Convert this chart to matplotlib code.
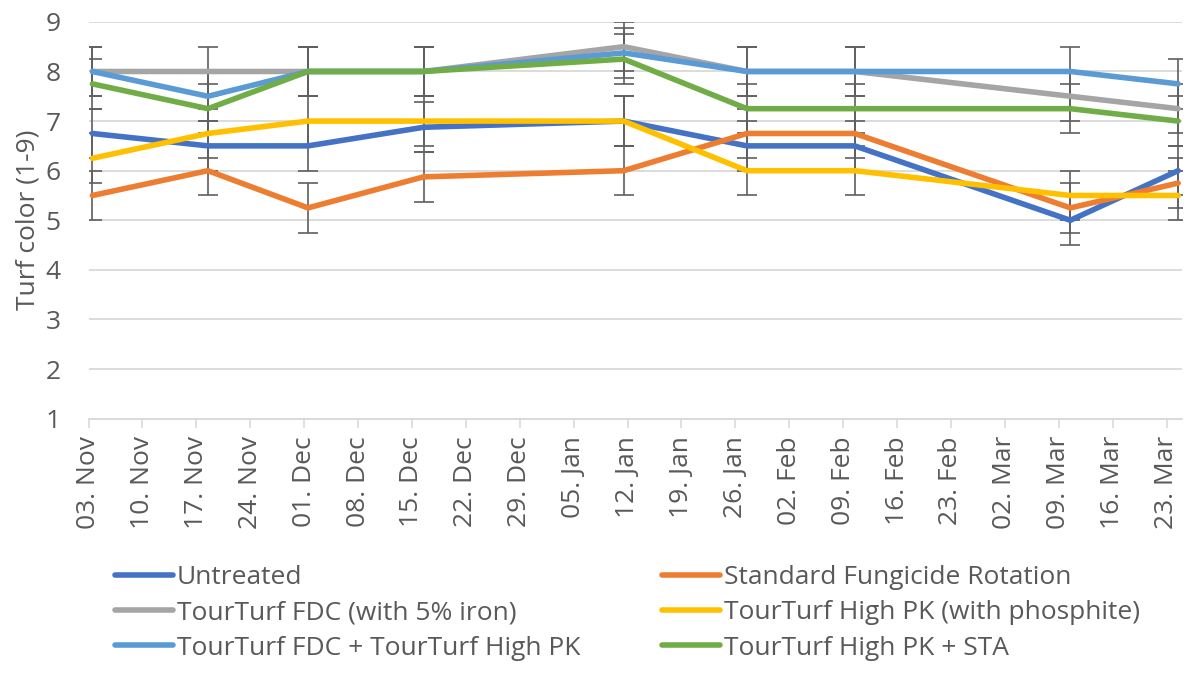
import matplotlib
matplotlib.use("Agg")
import matplotlib.pyplot as plt
import matplotlib.dates as mdates
import numpy as np
import pandas as pd

# ---- data ----
dates = ["2020-11-03", "2020-11-18", "2020-12-01", "2020-12-16", "2021-01-11",
         "2021-01-27", "2021-02-10", "2021-03-10", "2021-03-24"]
untreated = [6.75, 6.5, 6.5, 6.875, 7.0, 6.5, 6.5, 5.0, 6.0]
standard = [5.5, 6.0, 5.25, 5.875, 6.0, 6.75, 6.75, 5.25, 5.75]
fdc = [8.0, 8.0, 8.0, 8.0, 8.5, 8.0, 8.0, 7.5, 7.25]
highpk = [6.25, 6.75, 7.0, 7.0, 7.0, 6.0, 6.0, 5.5, 5.5]
fdc_hpk = [8.0, 7.5, 8.0, 8.0, 8.375, 8.0, 8.0, 8.0, 7.75]
hpk_sta = [7.75, 7.25, 8.0, 8.0, 8.25, 7.25, 7.25, 7.25, 7.0]
error = 0.5

series_names = ["Untreated", "Standard Fungicide Rotation", "TourTurf FDC (with 5% iron)",
                "TourTurf High PK (with phosphite)", "TourTurf FDC + TourTurf High PK",
                "TourTurf High PK + STA"]
series_values = [untreated, standard, fdc, highpk, fdc_hpk, hpk_sta]
colors = ["#4472C4", "#ED7D31", "#A5A5A5", "#FFC000", "#5B9BD5", "#70AD47"]

tick_start = "2020-11-03"
tick_end = "2021-03-23"
axis_end = "2021-03-25"

plt.rcParams['font.family'] = ['Open Sans', 'DejaVu Sans']
text_color = "#595959"
fs = 19

fig = plt.figure(figsize=(12, 6.75), dpi=100)
ax = fig.add_axes([0.0738, 0.3797, 0.9112, 0.5879])

x = pd.to_datetime(dates) + pd.Timedelta(hours=12)
handles = []
for i, (name, vals, c) in enumerate(zip(series_names, series_values, colors)):
    ax.errorbar(x, vals, yerr=error, fmt='none', ecolor="#5f5f5f", elinewidth=1.2,
                capsize=7.5, capthick=1.2, zorder=2)
for i, (name, vals, c) in enumerate(zip(series_names, series_values, colors)):
    h, = ax.plot(x, vals, color=c, lw=4.0, solid_capstyle='round',
                 solid_joinstyle='round', zorder=3 + i, label=name)
    handles.append(h)

ax.set_ylim(1, 9)
ax.set_yticks(range(1, 10))
ax.set_xlim(pd.Timestamp(tick_start), pd.Timestamp(axis_end))
ticks = pd.date_range(tick_start, tick_end, freq="7D")
ax.set_xticks(ticks)
ax.xaxis.set_major_formatter(mdates.DateFormatter("%d. %b"))
ax.grid(axis='y', color="#D9D9D9", lw=1.3, zorder=0)
for s in ["left", "right", "top"]:
    ax.spines[s].set_visible(False)
ax.spines["bottom"].set_color("#D9D9D9")
ax.spines["bottom"].set_linewidth(1.3)
ax.tick_params(axis='y', length=0, pad=20, labelsize=fs, labelcolor=text_color)
ax.tick_params(axis='x', length=6.5, width=1.2, color="#D9D9D9", pad=6,
               labelsize=fs, labelcolor=text_color, labelrotation=90)
ax.set_ylabel("Turf color (1-9)", fontsize=fs, color=text_color, labelpad=4)

leg_kw = dict(frameon=False, fontsize=fs, handlelength=2.2, handletextpad=0.15,
              labelspacing=0.39, labelcolor=text_color, borderaxespad=0, borderpad=0)
leg1 = fig.legend([handles[0], handles[2], handles[4]],
                  [series_names[0], series_names[2], series_names[4]],
                  loc="upper left", bbox_to_anchor=(0.0958, 0.163), **leg_kw)
leg2 = fig.legend([handles[1], handles[3], handles[5]],
                  [series_names[1], series_names[3], series_names[5]],
                  loc="upper left", bbox_to_anchor=(0.5517, 0.163), **leg_kw)

fig.savefig("out.png", dpi=100)
